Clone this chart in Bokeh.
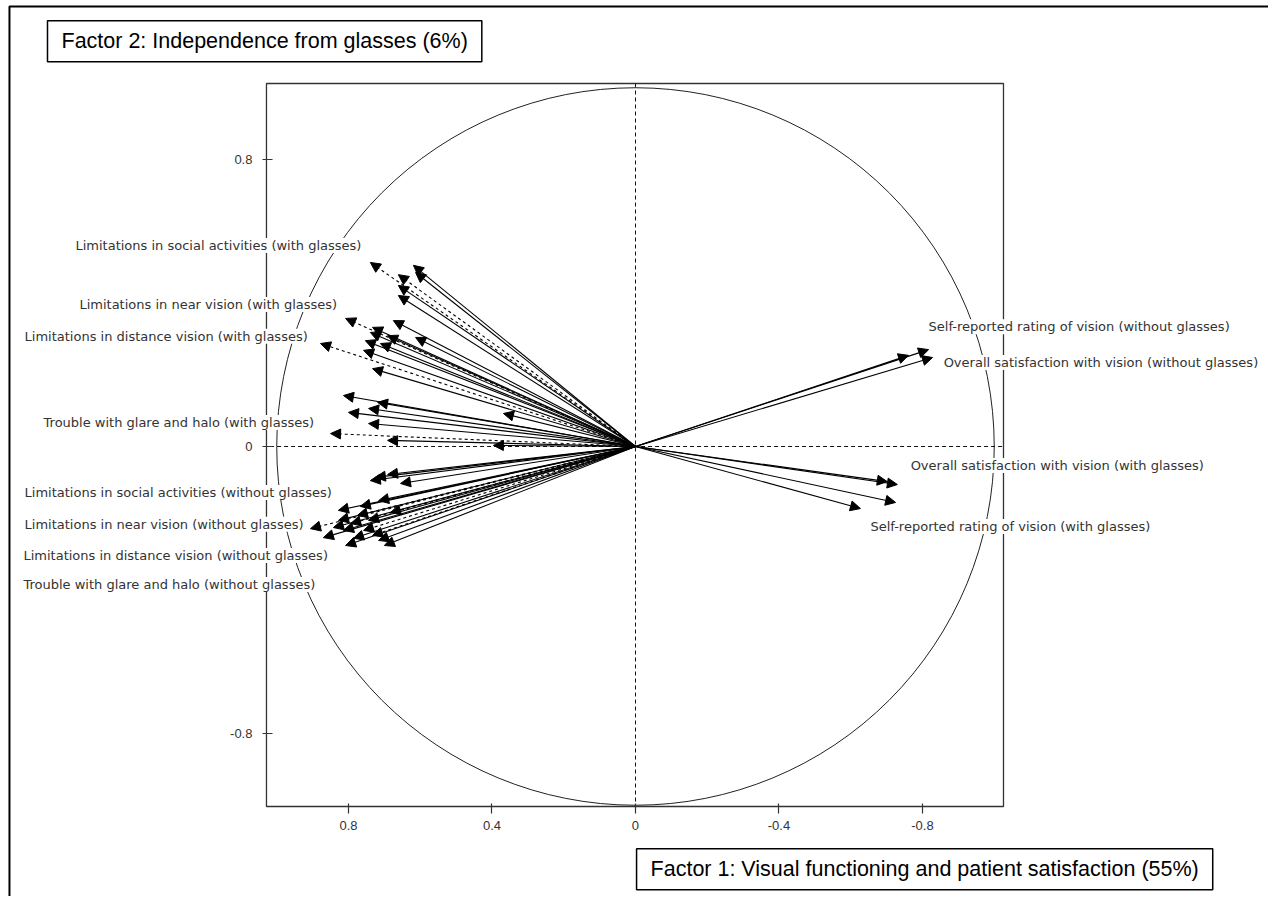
from bokeh.plotting import figure
from bokeh.models import (Range1d, FixedTicker, ColumnDataSource, Arrow, NormalHead,
                          LabelSet, Label, LinearAxis, BoxAnnotation)
from bokeh.core.properties import value
from bokeh.embed import file_html
from bokeh.resources import INLINE

# ---- data: loadings on Factor 1 (x) and Factor 2 (y) ----
# limitation items, with glasses
with_solid_f1 = [0.619, 0.613, 0.661, 0.661, 0.675, 0.733, 0.739, 0.691, 0.613, 0.753, 0.711,
                 0.758, 0.733, 0.814, 0.719, 0.744, 0.800, 0.368, 0.744, 0.691, 0.396]
with_solid_f2 = [0.505, 0.485, 0.449, 0.421, 0.351, 0.332, 0.318, 0.309, 0.304, 0.295, 0.287,
                 0.268, 0.217, 0.142, 0.123, 0.106, 0.095, 0.092, 0.064, 0.017, 0.003]
with_dashed_f1 = [0.739, 0.661, 0.808, 0.878, 0.850]
with_dashed_f2 = [0.513, 0.479, 0.357, 0.287, 0.036]

# limitation items, without glasses
without_solid_f1 = [0.725, 0.691, 0.655, 0.739, 0.828, 0.767, 0.716, 0.870, 0.828, 0.814,
                    0.786, 0.716, 0.700, 0.744, 0.842, 0.808]
without_solid_f2 = [-0.086, -0.078, -0.103, -0.095, -0.178, -0.167, -0.151, -0.254, -0.206, -0.234,
                    -0.256, -0.262, -0.276, -0.206, -0.226, -0.276]
without_dashed_f1 = [0.906, 0.794, 0.758, 0.775, 0.683, 0.733]
without_dashed_f2 = [-0.229, -0.215, -0.234, -0.192, -0.184, -0.248]

# rating / satisfaction items
satisf_f1 = [-0.761, -0.817, -0.828, -0.702, -0.730, -0.725, -0.627]
satisf_f2 = [0.254, 0.270, 0.248, -0.098, -0.106, -0.156, -0.173]

item_labels = [
    "Limitations in social activities (with glasses)",
    "Limitations in near vision (with glasses)",
    "Limitations in distance vision (with glasses)",
    "Trouble with glare and halo (with glasses)",
    "Limitations in social activities (without glasses)",
    "Limitations in near vision (without glasses)",
    "Limitations in distance vision (without glasses)",
    "Trouble with glare and halo (without glasses)",
    "Self-reported rating of vision (without glasses)",
    "Overall satisfaction with vision (without glasses)",
    "Overall satisfaction with vision (with glasses)",
    "Self-reported rating of vision (with glasses)",
]

x_ticks = [0.8, 0.4, 0, -0.4, -0.8]
x_tick_labels = ["0.8", "0.4", "0", "-0.4", "-0.8"]
y_ticks = [0.8, 0, -0.8]
y_tick_labels = ["0.8", "0", "-0.8"]

x_title = "Factor 1: Visual functioning and patient satisfaction (55%)"
y_title = "Factor 2: Independence from glasses (6%)"

# ---- layout (data units) ----
label_x = [1.561, 1.550, 1.703, 1.650, 1.703, 1.703, 1.706, 1.706, -0.817, -0.859, -0.767, -0.655]
label_y = [0.560, 0.396, 0.307, 0.067, -0.128, -0.217, -0.304, -0.385, 0.334, 0.234, -0.053, -0.223]
box_left, box_right, box_top, box_bottom = 1.0286, -1.0258, 1.0118, -1.0035

p = figure(frame_width=1268, frame_height=896,
           min_border=0, x_axis_location=None, y_axis_location=None,
           x_range=Range1d(1.7700, -1.7645), y_range=Range1d(-1.2544, 1.2432),
           output_backend="svg", toolbar_location=None, tools="")
p.background_fill_color = "white"
p.border_fill_color = "white"
p.outline_line_color = None
p.grid.visible = False

# outer page frame
p.add_layout(BoxAnnotation(left=1.745, top=1.2265, right=-3, bottom=-3,
                           fill_color=None, fill_alpha=0, line_color="black", line_alpha=1,
                           line_width=2, level="underlay"))
# plot box
p.add_layout(BoxAnnotation(left=box_left, right=box_right, top=box_top, bottom=box_bottom,
                           fill_color=None, fill_alpha=0, line_color="#333", line_alpha=1,
                           line_width=1.3, level="underlay"))

xaxis = LinearAxis(fixed_location=box_bottom, ticker=FixedTicker(ticks=x_ticks, minor_ticks=[]))
yaxis = LinearAxis(fixed_location=box_left, ticker=FixedTicker(ticks=y_ticks, minor_ticks=[]))
for ax in (xaxis, yaxis):
    ax.axis_line_color = None
    ax.major_tick_line_color = "#333"
    ax.major_tick_line_width = 1.2
    ax.minor_tick_line_color = None
    ax.major_label_text_font = "Liberation Sans"
    ax.major_label_text_font_size = "13px"
    ax.major_label_text_color = "#333"
xaxis.major_label_overrides = {t: s for t, s in zip(x_ticks, x_tick_labels)}
xaxis.major_tick_out = 7
xaxis.major_tick_in = 3
xaxis.major_label_standoff = 8
yaxis.major_label_overrides = {t: s for t, s in zip(y_ticks, y_tick_labels)}
yaxis.major_tick_out = 4
yaxis.major_tick_in = 6
yaxis.major_label_standoff = 10
yaxis.major_label_orientation = "horizontal"
p.add_layout(xaxis, "below")
p.add_layout(yaxis, "left")

# unit circle and dashed axes through origin
p.ellipse(x=0, y=0, width=2, height=2, fill_color=None, line_color="#222", line_width=1)
p.segment(x0=[0, box_left - 0.01], y0=[box_top, 0], x1=[0, box_right], y1=[box_bottom, 0],
          line_color="#111", line_dash="4 3", line_width=1)

solid_f1 = with_solid_f1 + without_solid_f1 + satisf_f1
solid_f2 = with_solid_f2 + without_solid_f2 + satisf_f2
dashed_f1 = with_dashed_f1 + without_dashed_f1
dashed_f2 = with_dashed_f2 + without_dashed_f2

src_solid = ColumnDataSource(dict(x0=[0.0] * len(solid_f1), y0=[0.0] * len(solid_f1),
                                  x1=solid_f1, y1=solid_f2))
src_dashed = ColumnDataSource(dict(x0=[0.0] * len(dashed_f1), y0=[0.0] * len(dashed_f1),
                                   x1=dashed_f1, y1=dashed_f2))

p.add_layout(Arrow(end=NormalHead(size=10, fill_color="black", line_color="black", line_width=1),
                   source=src_solid, x_start="x0", y_start="y0", x_end="x1", y_end="y1",
                   line_color="black", line_width=1.1))
p.add_layout(Arrow(end=NormalHead(size=10, fill_color="black", line_color="black", line_width=1),
                   source=src_dashed, x_start="x0", y_start="y0", x_end="x1", y_end="y1",
                   line_color="black", line_width=1.1, line_dash="3 3"))

lab_src = ColumnDataSource(dict(x=label_x, y=label_y, text=item_labels))
p.add_layout(LabelSet(x="x", y="y", text="text", source=lab_src,
                      text_font=value("DejaVu Sans"), text_font_size=value("13px"),
                      text_color="#333", text_align="left", text_baseline="middle",
                      background_fill_color="white"))

# padding order: (left, right, top, bottom)
p.add_layout(Label(x=1.639, y=1.187, text=y_title, text_font="Liberation Sans",
                   text_font_size="21.5px", text_color="black",
                   text_align="left", text_baseline="top",
                   border_line_color="black", border_line_width=1.5,
                   background_fill_color="white", padding=(14, 14, 8, 9)))
p.add_layout(Label(x=-0.003, y=-1.121, text=x_title, text_font="Liberation Sans",
                   text_font_size="21.5px", text_color="black",
                   text_align="left", text_baseline="top",
                   border_line_color="black", border_line_width=1.5,
                   background_fill_color="white", padding=(14, 14, 8, 9)))

open("out.html", "w").write(file_html(p, INLINE))
